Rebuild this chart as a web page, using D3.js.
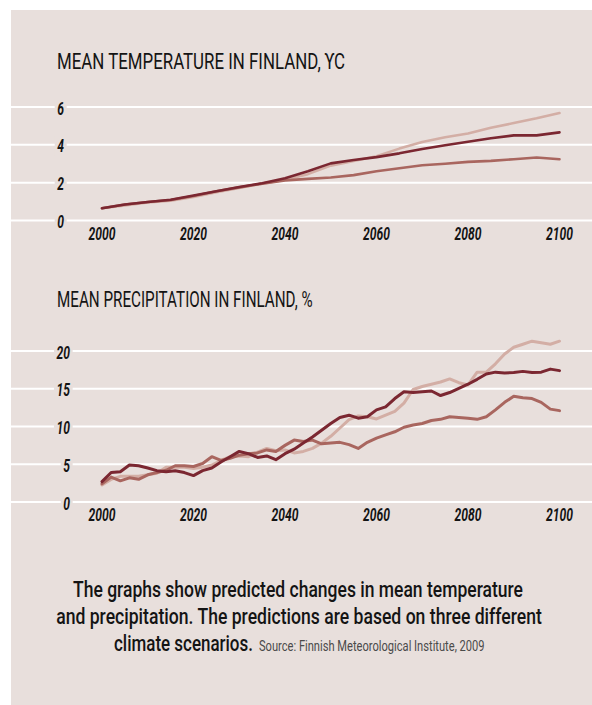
<!DOCTYPE html>
<html>
<head>
<meta charset="utf-8">
<script src="https://cdn.jsdelivr.net/npm/d3@7"></script>
<style>
  body { margin: 0; background: #fff; }
  svg text { font-family: Roboto, "Noto Sans", sans-serif; }
</style>
</head>
<body>
<div id="chart-area"></div>
<script>
// ---- data ----
var tempYears = [2000, 2005, 2010, 2015, 2020, 2025, 2030, 2035, 2040, 2045, 2050,
                 2055, 2060, 2065, 2070, 2075, 2080, 2085, 2090, 2095, 2100];
var tempDark   = [0.65, 0.85, 0.98, 1.1, 1.32, 1.55, 1.77, 1.97, 2.23, 2.6, 3.02,
                  3.2, 3.35, 3.55, 3.78, 3.98, 4.16, 4.35, 4.5, 4.5, 4.66];
var tempMedium = [0.65, 0.85, 0.98, 1.08, 1.3, 1.55, 1.75, 1.95, 2.12, 2.2, 2.27,
                  2.4, 2.6, 2.76, 2.92, 3.0, 3.1, 3.15, 3.24, 3.33, 3.24];
var tempLight  = [0.65, 0.8, 0.95, 1.05, 1.25, 1.5, 1.72, 1.95, 2.15, 2.45, 2.9,
                  3.15, 3.4, 3.8, 4.15, 4.4, 4.6, 4.9, 5.15, 5.4, 5.68];

var precYears = d3.range(2000, 2101, 2);
var precDark = [2.7, 3.9, 4.0, 4.9, 4.8, 4.5, 4.15, 4.0, 4.15, 3.9,
                3.5, 4.15, 4.5, 5.3, 6.0, 6.7, 6.4, 5.9, 6.1, 5.6,
                6.4, 7.0, 7.8, 8.6, 9.5, 10.4, 11.2, 11.5, 11.1, 11.3,
                12.2, 12.6, 13.7, 14.6, 14.5, 14.6, 14.7, 14.1, 14.5, 15.05,
                15.6, 16.25, 16.95, 17.2, 17.1, 17.15, 17.3, 17.15, 17.2, 17.6,
                17.4];
var precMedium = [2.4, 3.3, 2.8, 3.2, 3.0, 3.6, 3.9, 4.2, 4.8, 4.8,
                  4.7, 5.1, 6.0, 5.5, 5.8, 6.2, 6.4, 6.5, 6.9, 6.7,
                  7.5, 8.2, 8.0, 8.2, 7.7, 7.8, 7.9, 7.6, 7.1, 7.9,
                  8.45, 8.9, 9.3, 9.9, 10.2, 10.4, 10.8, 10.95, 11.3, 11.2,
                  11.1, 10.95, 11.3, 12.2, 13.2, 14.0, 13.8, 13.7, 13.2, 12.3,
                  12.1];
var precLight = [2.25, 3.0, 3.4, 3.4, 3.4, 3.6, 3.8, 4.6, 4.6, 4.6,
                 4.45, 4.6, 4.9, 5.5, 6.0, 6.1, 6.0, 6.6, 7.1, 6.8,
                 6.9, 6.5, 6.7, 7.1, 7.8, 8.7, 9.8, 10.9, 11.4, 11.3,
                 11.0, 11.5, 12.0, 13.1, 14.9, 15.3, 15.6, 15.9, 16.3, 15.8,
                 15.5, 17.2, 17.2, 18.3, 19.6, 20.5, 20.9, 21.3, 21.1, 20.9,
                 21.3];

var xTicks = [2000, 2020, 2040, 2060, 2080, 2100];
var tempTicks = [0, 2, 4, 6];
var precTicks = [0, 5, 10, 15, 20];

var tempTitle = "MEAN TEMPERATURE IN FINLAND, ϒC";
var precTitle = "MEAN PRECIPITATION IN FINLAND, %";
var captionLines = ["The graphs show predicted changes in mean temperature",
                    "and precipitation. The predictions are based on three different",
                    "climate scenarios."];
var sourceText = "Source: Finnish Meteorological Institute, 2009";

// ---- styles ----
var bg = "#e8dfdc";
var ink = "#141414";
var colors = { light: "#d3aea5", medium: "#a9665f", dark: "#7b2731" };

var width = 592, height = 705;

var svg = d3.select("#chart-area")
    .append("svg")
        .attr("width", width)
        .attr("height", height);

svg.append("rect")
    .attr("x", 11).attr("y", 10)
    .attr("width", width - 11).attr("height", height - 10)
    .attr("fill", bg);

// squeeze a text horizontally so it takes the given width (the original face is condensed)
function squeezed(parent, str, x, y, w, size, anchor) {
    var g = parent.append("g");
    var t = g.append("text")
        .attr("font-size", size + "px")
        .attr("text-anchor", anchor || "start")
        .text(str);
    var s = w / t.node().getComputedTextLength();
    g.attr("transform", "translate(" + x + "," + y + ") scale(" + s + ",1)");
    return t;
}

var x = d3.scaleLinear().domain([2000, 2100]).range([102, 559.5]);

// one squeeze factor for all tick labels, from the width of "2000"
var probe = svg.append("text")
    .attr("font-size", "19px").attr("font-weight", "bold").attr("font-style", "italic")
    .text("2000");
var tickScale = 27 / probe.node().getComputedTextLength();
probe.remove();

function drawPanel(opts) {
    var g = svg.append("g");

    squeezed(g, opts.title, 57, opts.titleY, opts.titleW, 21.5)
        .attr("fill", ink);

    // gridlines
    g.selectAll(".grid")
        .data(opts.ticks)
        .enter().append("line")
            .attr("x1", 11).attr("x2", width)
            .attr("y1", function(d) { return opts.y(d); })
            .attr("y2", function(d) { return opts.y(d); })
            .attr("stroke", "#fff")
            .attr("stroke-width", 2);

    // y labels, knocked out of the gridlines
    var yl = g.selectAll(".ylab")
        .data(opts.ticks)
        .enter().append("g")
            .attr("transform", function(d) {
                return "translate(" + opts.labelX + "," + (opts.y(d) + 7.5) + ") scale(" + tickScale + ",1)";
            });
    yl.append("rect").attr("fill", bg);
    yl.append("text")
        .attr("text-anchor", "end")
        .attr("font-size", "19px")
        .attr("font-weight", "bold")
        .attr("font-style", "italic")
        .attr("fill", ink)
        .text(function(d) { return d; });
    yl.each(function() {
        var b = d3.select(this).select("text").node().getBBox();
        d3.select(this).select("rect")
            .attr("x", b.x - 4).attr("y", b.y + 2)
            .attr("width", b.width + 8).attr("height", b.height - 4);
    });

    // x labels
    g.selectAll(".xlab")
        .data(xTicks)
        .enter().append("text")
            .attr("transform", function(d) {
                return "translate(" + x(d) + "," + opts.xLabelY + ") scale(" + tickScale + ",1)";
            })
            .attr("text-anchor", "middle")
            .attr("font-size", "19px")
            .attr("font-weight", "bold")
            .attr("font-style", "italic")
            .attr("fill", ink)
            .text(function(d) { return d; });

    var line = d3.line()
        .x(function(d) { return x(d[0]); })
        .y(function(d) { return opts.y(d[1]); });

    opts.series.forEach(function(s) {
        g.append("path")
            .datum(opts.years.map(function(yr, i) { return [yr, s.values[i]]; }))
            .attr("d", line)
            .attr("fill", "none")
            .attr("stroke", s.color)
            .attr("stroke-width", opts.lineW)
            .attr("stroke-linejoin", "round")
            .attr("stroke-linecap", "round");
    });
}

drawPanel({
    title: tempTitle, titleY: 69, titleW: 288,
    y: d3.scaleLinear().domain([0, 6]).range([220.5, 107]),
    ticks: tempTicks, labelX: 64, xLabelY: 239.5, lineW: 2.6,
    years: tempYears,
    series: [
        { values: tempLight, color: colors.light },
        { values: tempMedium, color: colors.medium },
        { values: tempDark, color: colors.dark }
    ]
});

drawPanel({
    title: precTitle, titleY: 307, titleW: 256,
    y: d3.scaleLinear().domain([0, 20]).range([502, 351]),
    ticks: precTicks, labelX: 70, xLabelY: 520.5, lineW: 3,
    years: precYears,
    series: [
        { values: precLight, color: colors.light },
        { values: precMedium, color: colors.medium },
        { values: precDark, color: colors.dark }
    ]
});

// caption
var cap = svg.append("g").attr("fill", ink).attr("font-weight", 500);
squeezed(cap, captionLines[0], 298, 597, 450, 22.5, "middle");
squeezed(cap, captionLines[1], 299, 624, 486, 22.5, "middle");
squeezed(cap, captionLines[2], 114, 651, 139, 22.5);
squeezed(svg, sourceText, 259, 651, 226, 14)
    .attr("fill", "#4a4a4a");
</script>
</body>
</html>
